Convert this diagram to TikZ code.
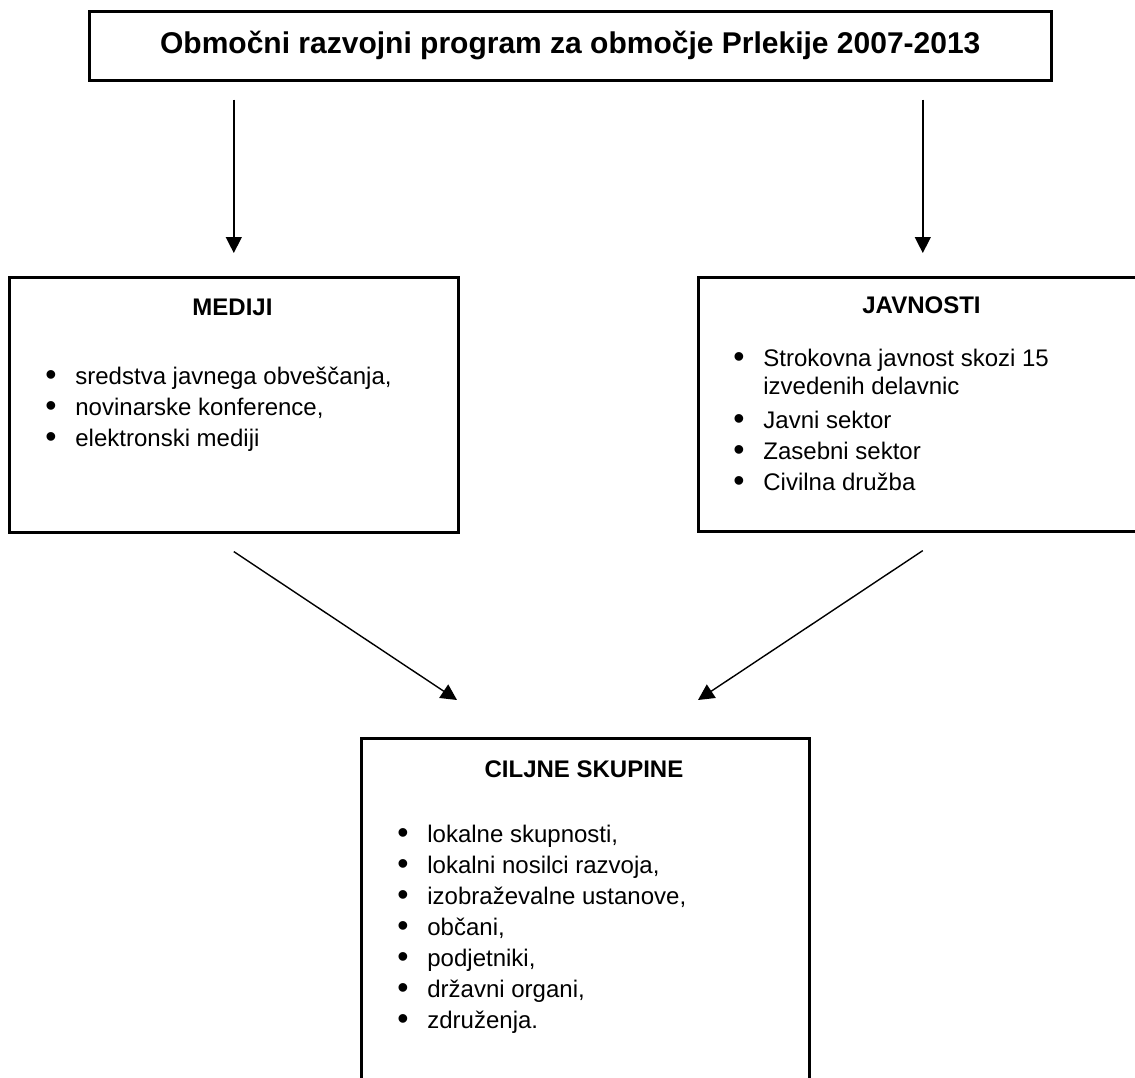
\documentclass[tikz,border=0pt]{standalone}
\usepackage{fontspec}
\setmainfont{Liberation Sans}
\usetikzlibrary{arrows.meta}

\newcommand{\blt}{\raisebox{-0.6pt}{\fontsize{16}{16}\selectfont\textbullet}}

\tikzset{
  box/.style={draw, line width=1.3pt, inner sep=0pt, anchor=north west},
  head/.style={font=\fontsize{12}{15.5}\selectfont\bfseries, anchor=base},
  list/.style={font=\fontsize{12}{15.5}\selectfont, anchor=base west, inner sep=0pt},
  arr/.style={-{Triangle[length=8pt,width=8pt]}, line width=0.7pt},
}

\begin{document}
\begin{tikzpicture}[x=0.5pt, y=-0.5pt]
  \useasboundingbox (0,0) rectangle (1135,1077);
  \clip (0,0) rectangle (1135,1077);

  % Program
  \node[box, minimum width=481pt, minimum height=34.5pt,
    font=\fontsize{15}{18}\selectfont\bfseries] (prog) at (88,10)
    {Območni razvojni program za območje Prlekije 2007-2013};

  % Mediji
  \node[box, minimum width=224.5pt, minimum height=127.5pt] (mediji) at (8,276) {};
  \node[head] (medijihead) at (232.5,315) {MEDIJI};
  \node[list] (medijilist) at (45,384) {\begin{tabular}[t]{@{}p{15pt}@{}l@{}}
      \blt & sredstva javnega obveščanja,\\
      \blt & novinarske konference,\\
      \blt & elektronski mediji
    \end{tabular}};

  % Javnosti
  \node[box, minimum width=224.5pt, minimum height=127pt] (javnosti) at (697,276) {};
  \node[head] (javnostihead) at (921.5,313) {JAVNOSTI};
  \node[list] (javnostilist) at (733,366) {\begin{tabular}[t]{@{}p{15pt}@{}l@{}}
      \blt & Strokovna javnost skozi 15\\[-1.5pt]
           & izvedenih delavnic\\[1.5pt]
      \blt & Javni sektor\\
      \blt & Zasebni sektor\\
      \blt & Civilna družba
    \end{tabular}};

  % Ciljne skupine
  \node[box, line width=1.6pt, minimum width=224pt, minimum height=185pt] (ciljne) at (360,737) {};
  \node[head] (ciljnehead) at (584,777) {CILJNE SKUPINE};
  \node[list] (ciljnelist) at (397,842) {\begin{tabular}[t]{@{}p{15pt}@{}l@{}}
      \blt & lokalne skupnosti,\\
      \blt & lokalni nosilci razvoja,\\
      \blt & izobraževalne ustanove,\\
      \blt & občani,\\
      \blt & podjetniki,\\
      \blt & državni organi,\\
      \blt & združenja.
    \end{tabular}};

  % Arrows
  \coordinate (ltip) at (457,700);
  \coordinate (rtip) at (698,700);
  \draw[arr, shorten <=9pt, shorten >=11.5pt] (prog.south -| mediji.north) -- (mediji.north);
  \draw[arr, shorten <=9pt, shorten >=11.5pt] (prog.south -| javnosti.north) -- (javnosti.north);
  \draw[arr] ([yshift=-9pt]mediji.south) -- (ltip);
  \draw[arr] ([yshift=-9pt]javnosti.south) -- (rtip);
\end{tikzpicture}
\end{document}
